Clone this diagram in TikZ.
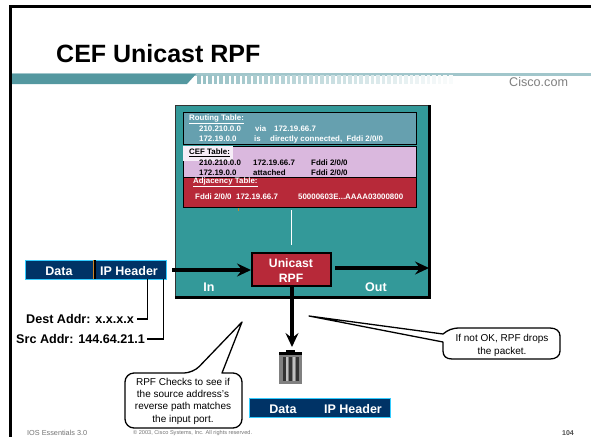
\documentclass[tikz,border=0pt]{standalone}
\usepackage{fontspec}
\setmainfont{Liberation Sans}
\usetikzlibrary{arrows.meta, positioning}
\definecolor{teal1}{RGB}{51,153,153}
\definecolor{tealrow}{RGB}{102,160,175}
\definecolor{pinkrow}{RGB}{218,184,222}
\definecolor{redrow}{RGB}{183,41,57}
\definecolor{navy1}{RGB}{0,51,102}
\definecolor{cyan1}{RGB}{51,204,255}
\definecolor{orange1}{RGB}{204,134,40}
\definecolor{band1}{RGB}{84,152,160}
\tikzset{
  tablebox/.style = {draw=black, line width=1.3pt, anchor=north west, inner sep=0pt},
  rowtext/.style = {anchor=west, inner sep=0pt, font=\bfseries\fontsize{7.9}{9}\selectfont, white},
  rowdark/.style = {anchor=west, inner sep=0pt, font=\bfseries\fontsize{7.9}{9}\selectfont, black},
  packet/.style = {draw=cyan1, fill=navy1, line width=1.2pt, anchor=north west, inner sep=0pt},
  packettext/.style = {inner sep=0pt, font=\bfseries\fontsize{12.5}{15}\selectfont, white},
  addrtext/.style = {inner sep=0pt, anchor=west, font=\bfseries\fontsize{12.6}{15}\selectfont},
  balloon/.style = {draw=black, fill=white, line width=1.3pt, line join=round},
  balloontext/.style = {align=center, inner sep=0pt, font=\fontsize{10}{12.3}\selectfont},
  thickarrow/.style = {line width=3.2pt, -{Stealth[length=14pt,width=13pt,inset=5pt]}},
  footer/.style = {inner sep=0pt, anchor=west, text=black!55}
}
\begin{document}
\begin{tikzpicture}[x=1pt, y=-1pt]
\useasboundingbox (0,0) rectangle (591,437);
% slide frame
\fill[black] (9,4.5) rectangle (591,7.5);
\fill[black] (9,4.5) rectangle (12,437);
\node[inner sep=0pt, anchor=west, font=\bfseries\fontsize{25}{28}\selectfont] (title) at (56,54) {CEF Unicast RPF};
% band
\fill[band1!55] (12,73) rectangle (591,76);
\fill[band1] (12,74) -- (196,74) -- (187,84) -- (12,84) -- cycle;
\foreach \i in {0,...,45} {
  \pgfmathsetmacro{\fade}{max(4,62-\i*1.3)}
  \fill[band1!\fade!white] (197+\i*5.6,75) rectangle +(3.6,9);
}
\node[inner sep=0pt, anchor=west, font=\fontsize{12.6}{14}\selectfont, text=black!50] (cisco) at (509,82) {Cisco.com};
% main box
\node[draw=black!80, line width=1pt, fill=teal1, anchor=north west, minimum width=253pt, minimum height=191pt] (router) at (175,105) {};
\draw[line width=3pt] (router.south west) -- (router.south east) -- (router.north east);
% tables
\node[tablebox, fill=tealrow, minimum width=233pt, minimum height=32pt] (routing) at (183,112) {};
\node[tablebox, fill=pinkrow, minimum width=233pt, minimum height=31pt] (cef) at (183,146) {};
\fill[pinkrow!25] (182.5,145.5) rectangle (233,161);
\node[tablebox, fill=redrow, minimum width=233pt, minimum height=30pt] (adj) at (183,177) {};
\node[rowtext] (rt0) at (189,119) {\underline{Routing Table:}};
\node[rowtext] (rt1) at (199,129) {210.210.0.0};
\node[rowtext] (rt2) at (199,139) {172.19.0.0};
\node[rowtext] (rt3) at (255,129) {via};
\node[rowtext] (rt4) at (254,139) {is};
\node[rowtext] (rt5) at (274,129) {172.19.66.7};
\node[rowtext] (rt6) at (270,139) {directly connected,~~Fddi 2/0/0};
\node[rowdark] (cf0) at (189,153) {\underline{CEF Table:}};
\node[rowdark] (cf1) at (199,163) {210.210.0.0};
\node[rowdark] (cf2) at (199,173) {172.19.0.0};
\node[rowdark] (cf3) at (253,163) {172.19.66.7};
\node[rowdark] (cf4) at (253,173) {attached};
\node[rowdark] (cf5) at (311,163) {Fddi 2/0/0};
\node[rowdark] (cf6) at (311,173) {Fddi 2/0/0};
\node[rowtext] (ad0) at (193,182) {\underline{Adjacency Table:}};
\node[rowtext] (ad1) at (195,197) {Fddi 2/0/0};
\node[rowtext] (ad2) at (236,197) {172.19.66.7};
\node[rowtext] (ad3) at (298,197) {50000603E...AAAA03000800};
\fill[orange1] (237.5,208) rectangle (238.5,211);
% unicast rpf
\node[draw=black, line width=1.7pt, fill=redrow, anchor=north west, minimum width=79pt, minimum height=33pt] (rpf) at (251,252) {};
\node[packettext, align=center, font=\bfseries\fontsize{12.2}{15}\selectfont] (rpftext) at (291,270.5) {Unicast\\RPF};
\coordinate (stem) at (291.5,210);
\draw[white, line width=1pt] (stem) -- (stem |- 0,245);
\node[packettext] (in) at (209,287) {In};
\node[packettext] (out) at (376,287) {Out};
% incoming packet
\node[packet, minimum width=141pt, minimum height=19pt] (pkt) at (25,260) {};
\node[packettext] (pktdata) at (59,271) {Data};
\node[packettext] (pkthdr) at (129,271) {IP Header};
\coordinate (sep) at (93.5,260);
\coordinate (sepb) at (93.5,279);
\draw[orange1, line width=1.6pt] (sep) -- (sepb);
\draw[black, line width=1.4pt] ([xshift=1.6pt]sep) -- ([xshift=1.6pt]sepb);
\coordinate (inl) at (172,270);
\draw[thickarrow] (inl) -- (inl -| rpf.west);
\coordinate (outl) at (335,268);
\draw[thickarrow] (outl) -- (outl -| router.east);
% addresses
\node[addrtext] (dest) at (26,319) {Dest Addr: x.x.x.x};
\node[addrtext] (src) at (16,339) {Src Addr: 144.64.21.1};
\coordinate (destup) at (147.5,279);
\coordinate (srcup) at (163.5,279);
\draw[line width=1.2pt] (destup) |- ([xshift=3pt]dest.east);
\draw[line width=1.2pt] (srcup) |- ([xshift=2pt]src.east);
% drop
\node[fill=black!50, minimum width=23pt, minimum height=30pt, inner sep=0pt, anchor=north] (bin) at (290.5,354) {};
\fill[black] (279,352) rectangle (302,355);
\fill[black] (286,350) rectangle (295,353);
\foreach \i in {-8,-1.5,5} \fill[black!80] ([xshift=\i pt,yshift=-3pt]bin.north) rectangle ([xshift=\i pt+3pt,yshift=-27pt]bin.north);
\foreach \i in {-4.5,2} \fill[black!25] ([xshift=\i pt,yshift=-3pt]bin.north) rectangle ([xshift=\i pt+2pt,yshift=-27pt]bin.north);
\coordinate (drop) at (292,347);
\draw[thickarrow] (drop |- rpf.south) -- (drop);
% outgoing packet
\node[packet, minimum width=141pt, minimum height=19pt] (pkt2) at (249,398) {};
\node[packettext] (p2data) at (283,409) {Data};
\node[packettext] (p2hdr) at (353,409) {IP Header};
% callouts
\coordinate (tipa) at (242,322);
\coordinate (tipb) at (309,316);
\draw[balloon] (193,373) -- (tipa) -- (222,373) [rounded corners=9pt] -- (242,373) -- (242,428) -- (125,428) -- (125,373) -- cycle;
\node[balloontext] (rpfnote) at (183,401) {RPF Checks to see if\\the source address's\\reverse path matches\\the input port.};
\draw[balloon] (tipb) -- (443,334) .. controls (448,330) and (452,328) .. (460,328) -- (550,328) .. controls (556,328) and (560,331) .. (560,336) -- (560,351) .. controls (560,356) and (556,359) .. (550,359) -- (452,359) .. controls (446,359) and (443,356) .. (443,351) -- (443,342) -- cycle;
\node[balloontext] (dropnote) at (502,345.5) {If not OK, RPF drops\\the packet.};
% footer
\node[footer, font=\fontsize{7.3}{8}\selectfont] (ios) at (27,433) {IOS Essentials 3.0};
\node[footer, font=\fontsize{5.6}{7}\selectfont] (copy) at (133,433) {\textcopyright{} 2003, Cisco Systems, Inc. All rights reserved.};
\node[footer, font=\bfseries\fontsize{7}{8}\selectfont, text=black!70] (page) at (562,433) {104};
\end{tikzpicture}
\end{document}
